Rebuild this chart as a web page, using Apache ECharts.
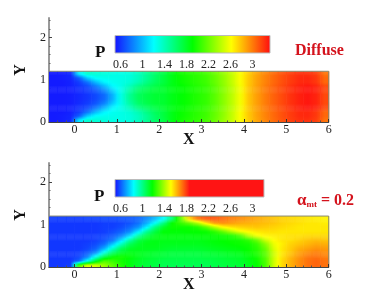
<!DOCTYPE html>
<html><head><meta charset="utf-8">
<style>html,body{margin:0;padding:0;background:#fff}#c{width:374px;height:291px;filter:blur(0.45px)}</style>
<script src="https://cdn.jsdelivr.net/npm/echarts@6/dist/echarts.min.js"></script>
</head><body><div id="c"></div>
<script>
const xCenters=[-0.5,-0.3,-0.1,0.1,0.3,0.5,0.7,0.9,1.1,1.3,1.5,1.7,1.9,2.1,2.3,2.5,2.7,2.9,3.1,3.3,3.5,3.7,3.9,4.1,4.3,4.5,4.7,4.9,5.1,5.3,5.5,5.7,5.9];
const yCenters=[0.05,0.15,0.25,0.35,0.45,0.55,0.65,0.75,0.85,0.95,1.05,1.15];
const diffuseP=[
[.52,.53,.56,1.15,1.35,1.32,1.3,1.28,1.27,1.3,1.38,1.5,1.62,1.72,1.85,1.95,2.0,2.04,2.1,2.2,2.32,2.45,2.6,2.76,2.88,2.97,3.05,3.12,3.18,3.22,3.22,3.18,3.02],
[.52,.53,.55,.72,1.05,1.22,1.25,1.26,1.27,1.3,1.38,1.5,1.63,1.74,1.85,1.93,1.98,2.03,2.08,2.18,2.3,2.44,2.6,2.77,2.89,2.98,3.06,3.13,3.19,3.24,3.25,3.2,3.06],
[.52,.52,.54,.62,.78,1.0,1.17,1.24,1.27,1.32,1.42,1.55,1.66,1.74,1.85,1.93,1.98,2.03,2.08,2.18,2.3,2.44,2.6,2.77,2.89,2.98,3.06,3.13,3.19,3.24,3.25,3.2,3.06],
[.52,.52,.54,.59,.66,.8,.98,1.18,1.27,1.4,1.55,1.64,1.72,1.78,1.85,1.9,1.95,2.0,2.05,2.15,2.28,2.42,2.58,2.78,2.9,3.0,3.08,3.15,3.22,3.27,3.3,3.26,3.15],
[.52,.52,.53,.57,.62,.7,.84,1.06,1.27,1.46,1.62,1.7,1.76,1.78,1.85,1.9,1.95,2.0,2.05,2.15,2.28,2.42,2.58,2.78,2.9,3.0,3.08,3.15,3.22,3.27,3.3,3.26,3.15],
[.52,.52,.53,.56,.6,.66,.76,.98,1.28,1.5,1.65,1.72,1.77,1.78,1.85,1.9,1.95,2.0,2.05,2.15,2.28,2.42,2.58,2.78,2.9,3.0,3.08,3.15,3.22,3.27,3.3,3.26,3.15],
[.52,.52,.53,.56,.6,.66,.76,.98,1.28,1.5,1.65,1.72,1.77,1.78,1.85,1.9,1.95,2.0,2.05,2.15,2.28,2.42,2.58,2.78,2.9,3.0,3.08,3.15,3.22,3.27,3.3,3.26,3.15],
[.52,.52,.53,.57,.62,.7,.84,1.06,1.27,1.46,1.62,1.7,1.76,1.78,1.85,1.9,1.95,2.0,2.05,2.15,2.28,2.42,2.58,2.78,2.9,3.0,3.08,3.15,3.22,3.27,3.3,3.26,3.15],
[.52,.52,.54,.59,.66,.8,.98,1.18,1.27,1.4,1.55,1.64,1.72,1.78,1.85,1.9,1.95,2.0,2.05,2.15,2.28,2.42,2.58,2.78,2.9,3.0,3.08,3.15,3.22,3.27,3.3,3.26,3.15],
[.52,.52,.54,.62,.78,1.0,1.17,1.24,1.27,1.32,1.42,1.55,1.66,1.74,1.85,1.93,1.98,2.03,2.08,2.18,2.3,2.44,2.6,2.77,2.89,2.98,3.06,3.13,3.19,3.24,3.25,3.2,3.06],
[.52,.53,.55,.72,1.05,1.22,1.25,1.26,1.27,1.3,1.38,1.5,1.63,1.74,1.85,1.93,1.98,2.03,2.08,2.18,2.3,2.44,2.6,2.77,2.89,2.98,3.06,3.13,3.19,3.24,3.25,3.2,3.06],
[.52,.53,.56,1.15,1.35,1.32,1.3,1.28,1.27,1.3,1.38,1.5,1.62,1.72,1.85,1.95,2.0,2.04,2.1,2.2,2.32,2.45,2.6,2.76,2.88,2.97,3.05,3.12,3.18,3.22,3.22,3.18,3.02]
];
const alphaP=[
[.55,.55,.56,1.3,1.48,1.46,1.38,1.3,1.22,1.16,1.12,1.1,1.09,1.07,1.07,1.07,1.07,1.07,1.07,1.08,1.09,1.1,1.11,1.14,1.18,1.27,1.45,1.57,1.63,1.68,1.72,1.74,1.72],
[.55,.55,.55,.62,.86,1.12,1.28,1.25,1.2,1.16,1.13,1.11,1.1,1.08,1.08,1.08,1.08,1.08,1.08,1.09,1.1,1.11,1.12,1.15,1.19,1.28,1.45,1.57,1.63,1.68,1.72,1.74,1.72],
[.55,.55,.55,.57,.66,.88,1.08,1.18,1.2,1.17,1.14,1.12,1.11,1.1,1.09,1.09,1.09,1.09,1.1,1.1,1.11,1.12,1.13,1.16,1.2,1.29,1.45,1.56,1.62,1.67,1.71,1.72,1.7],
[.55,.55,.55,.56,.6,.68,.88,1.04,1.12,1.15,1.14,1.13,1.12,1.11,1.1,1.1,1.1,1.1,1.11,1.12,1.13,1.14,1.15,1.18,1.22,1.3,1.45,1.55,1.6,1.65,1.68,1.7,1.68],
[.55,.55,.55,.55,.57,.61,.72,.9,1.05,1.12,1.14,1.14,1.14,1.13,1.12,1.12,1.12,1.12,1.13,1.14,1.15,1.16,1.17,1.19,1.23,1.32,1.47,1.55,1.59,1.63,1.65,1.67,1.66],
[.55,.55,.55,.55,.56,.58,.63,.76,.92,1.06,1.12,1.15,1.15,1.14,1.14,1.14,1.14,1.14,1.15,1.16,1.17,1.18,1.19,1.2,1.25,1.36,1.49,1.54,1.58,1.6,1.62,1.64,1.63],
[.55,.55,.55,.55,.55,.56,.59,.64,.78,.95,1.08,1.13,1.15,1.15,1.15,1.15,1.15,1.15,1.16,1.17,1.18,1.19,1.2,1.24,1.32,1.45,1.52,1.55,1.56,1.58,1.6,1.61,1.6],
[.55,.55,.55,.55,.55,.56,.57,.6,.66,.78,.96,1.08,1.14,1.16,1.16,1.16,1.16,1.17,1.17,1.18,1.19,1.21,1.28,1.42,1.5,1.53,1.54,1.55,1.56,1.56,1.57,1.57,1.57],
[.55,.55,.55,.55,.55,.55,.56,.58,.61,.67,.8,.97,1.09,1.17,1.17,1.17,1.18,1.18,1.19,1.24,1.32,1.42,1.5,1.53,1.55,1.56,1.56,1.55,1.55,1.55,1.55,1.55,1.55],
[.55,.55,.55,.55,.55,.55,.56,.56,.58,.62,.68,.82,1.0,1.12,1.19,1.19,1.19,1.22,1.3,1.42,1.52,1.56,1.58,1.59,1.6,1.59,1.58,1.57,1.56,1.55,1.55,1.55,1.55],
[.55,.55,.55,.55,.55,.55,.56,.56,.57,.59,.63,.72,.84,1.0,1.18,1.25,1.32,1.42,1.56,1.66,1.68,1.66,1.64,1.63,1.62,1.61,1.6,1.58,1.57,1.56,1.55,1.55,1.54],
[.56,.56,.56,.56,.57,.57,.58,.58,.59,.6,.62,.67,.74,.84,1.02,1.3,1.58,1.72,1.76,1.76,1.73,1.7,1.68,1.66,1.64,1.62,1.6,1.58,1.57,1.56,1.55,1.54,1.53]
];
const xTicks=[0,1,2,3,4,5,6];
const xMinorTicks=[-0.4,-0.2,0.2,0.4,0.6,0.8,1.2,1.4,1.6,1.8,2.2,2.4,2.6,2.8,3.2,3.4,3.6,3.8,4.2,4.4,4.6,4.8,5.2,5.4,5.6,5.8];
const yTicks=[0,1,2];
const yMinorTicks=[0.2,0.4,0.6,0.8,1.2,1.4,1.6,1.8,2.2,2.4];
const barTicks=[0.6,1,1.4,1.8,2.2,2.6,3];
const outline=[[-0.6,1.2],[6,1.2],[6,0]];
const palette1=['#1414ff','#00ffff','#00ff00','#ffff00','#ff0f0f'];
const palette2=['#1414ff','#00ffff','#00ff00','#ffff00','#ff1414','#ff1414','#ff1414','#ff1414','#ff1414'];

const FONT='"Liberation Serif","Times New Roman",serif';
const cells=(rows)=>{const out=[];rows.forEach((r,j)=>r.forEach((v,i)=>out.push([xCenters[i],yCenters[j],v])));return out;};
const SUB=4;
const makeRender=(rows,palette,vmin,vmax)=>{
  const colorOf=v=>echarts.color.lerp(Math.max(0,Math.min(1,(v-vmin)/(vmax-vmin))),palette);
  const nc=xCenters.length,nr=yCenters.length;
  return (params,api)=>{
    const idx=params.dataIndex,i=idx%nc,j=Math.floor(idx/nc);
    const x=api.value(0),y=api.value(1);
    const children=[];
    for(let s=0;s<SUB;s++){
      const f0=s/SUB,f1=(s+1)/SUB,fm=(f0+f1)/2-0.5;
      const j2=Math.max(0,Math.min(nr-1,j+(fm<0?-1:1))),w=Math.abs(fm);
      const at=c=>{const cc=Math.max(0,Math.min(nc-1,c));return rows[j][cc]*(1-w)+rows[j2][cc]*w;};
      const vL=(at(i-1)+at(i))/2,vC=at(i),vR=(at(i)+at(i+1))/2;
      const a=api.coord([x-0.1,y-0.05+0.1*f1]),b=api.coord([x+0.1,y-0.05+0.1*f0]);
      children.push({type:'rect',shape:{x:a[0],y:a[1],width:b[0]-a[0]+0.5,height:b[1]-a[1]+0.5},
        style:{fill:{type:'linear',x:0,y:0,x2:1,y2:0,colorStops:[
          {offset:0,color:colorOf(vL)},{offset:0.5,color:colorOf(vC)},{offset:1,color:colorOf(vR)}]}}});
    }
    return {type:'group',children};
  };
};
const renderBar=(palette)=>(params,api)=>{
  const a=api.coord([api.value(0),1]),b=api.coord([api.value(1),0]);
  return {type:'rect',shape:{x:a[0],y:a[1],width:b[0]-a[0],height:b[1]-a[1]},
    style:{fill:{type:'linear',x:0,y:0,x2:1,y2:0,colorStops:palette.map((c,n)=>({offset:n/(palette.length-1),color:c}))}}};
};
const panels=[{top:18,h:104,ymax:2.46,barTop:35.5,barW:155,barMax:3.32,rows:diffuseP,pal:palette1},
              {top:163,h:104,ymax:2.45,barTop:179.5,barW:149,barMax:3.21,rows:alphaP,pal:palette2}];
const grids=[],xAxes=[],yAxes=[],series=[];
panels.forEach((p,k)=>{
  const g=grids.length;
  grids.push({left:49,top:p.top,width:279.7,height:p.h,outerBoundsMode:'none'});
  grids.push({left:115,top:p.barTop,width:p.barW,height:17.5,outerBoundsMode:'none',show:true,borderColor:'#bbb',borderWidth:1,backgroundColor:'transparent',z:3});
  const ax=xAxes.length;
  xAxes.push({gridIndex:g,type:'value',min:-0.6,max:6,z:3,splitLine:{show:false},
    axisLine:{onZero:false,lineStyle:{color:'#444',width:1}},axisTick:{inside:true,length:3,lineStyle:{color:'#333'},customValues:xTicks},
    axisLabel:{customValues:xTicks,fontFamily:FONT,fontSize:12,color:'#222',margin:2},
    name:'X',nameLocation:'middle',nameGap:10,nameMoveOverlap:false,nameTextStyle:{fontFamily:FONT,fontSize:16,fontWeight:'bold',color:'#111'}});
  xAxes.push({gridIndex:g,type:'value',min:-0.6,max:6,z:3,position:'bottom',splitLine:{show:false},axisLine:{show:false,onZero:false},
    axisTick:{inside:true,length:1.5,lineStyle:{color:'#555'},customValues:xMinorTicks},axisLabel:{show:false}});
  xAxes.push({gridIndex:g+1,type:'value',min:0.5,max:p.barMax,splitLine:{show:false},axisLine:{show:false},axisTick:{show:false},
    axisLabel:{customValues:barTicks,fontFamily:FONT,fontSize:12,color:'#222',margin:6}});
  const ay=yAxes.length;
  yAxes.push({gridIndex:g,type:'value',min:0,max:p.ymax,z:0,splitLine:{show:false},
    axisLine:{onZero:false,lineStyle:{color:'#999',width:2}},axisTick:{inside:true,length:3,lineStyle:{color:'#444'},customValues:yTicks},
    axisLabel:{customValues:yTicks,fontFamily:FONT,fontSize:12,color:'#222',margin:3},
    name:'Y',nameLocation:'middle',nameGap:20,nameRotate:90,nameMoveOverlap:false,nameTextStyle:{fontFamily:FONT,fontSize:16,fontWeight:'bold',color:'#111'}});
  yAxes.push({gridIndex:g,type:'value',min:0,max:p.ymax,z:0,position:'left',splitLine:{show:false},axisLine:{show:false,onZero:false},
    axisTick:{inside:true,length:1.5,lineStyle:{color:'#666'},customValues:yMinorTicks},axisLabel:{show:false}});
  yAxes.push({gridIndex:g+1,type:'value',min:0,max:1,show:false});
  series.push({type:'custom',name:k?'alpha':'diffuse',xAxisIndex:ax,yAxisIndex:ay,data:cells(p.rows),
    encode:{x:0,y:1},renderItem:makeRender(p.rows,p.pal,0.5,p.barMax),silent:true,z:1,animation:false});
  series.push({type:'line',xAxisIndex:ax,yAxisIndex:ay,data:outline,symbol:'none',silent:true,z:2,animation:false,
    lineStyle:{color:'#8a8a70',width:1}});
  series.push({type:'line',xAxisIndex:ax+1,yAxisIndex:ay+1,data:[],silent:true});
  series.push({type:'custom',xAxisIndex:ax+2,yAxisIndex:ay+2,data:[[0.5,p.barMax]],encode:{x:[0,1]},
    renderItem:renderBar(p.pal),silent:true,z:1,animation:false});
});
const opt={
  animation:false,
  grid:grids,xAxis:xAxes,yAxis:yAxes,series:series,
  title:[
    {text:'P',left:95,top:44,padding:0,textStyle:{fontFamily:FONT,fontSize:17,fontWeight:'bold',color:'#111'}},
    {text:'Diffuse',left:295,top:43,padding:0,textStyle:{fontFamily:FONT,fontSize:16,fontWeight:'bold',color:'#d4121c'}},
    {text:'P',left:94,top:188,padding:0,textStyle:{fontFamily:FONT,fontSize:17,fontWeight:'bold',color:'#111'}},
    {text:'{a|\u03b1}{s|mt}{b| = 0.2}',left:297,top:192,padding:0,textStyle:{rich:{
      a:{fontFamily:FONT,fontSize:17,color:'#d4121c',verticalAlign:'bottom'},
      s:{fontFamily:FONT,fontSize:9,fontWeight:'bold',color:'#d4121c',verticalAlign:'bottom',padding:[5,0,0,0]},
      b:{fontFamily:FONT,fontSize:16,fontWeight:'bold',color:'#d4121c',verticalAlign:'bottom'}}}}
  ]
};
const chart=echarts.init(document.getElementById('c'),null,{renderer:'canvas'});
chart.setOption(opt);
</script></body></html>
